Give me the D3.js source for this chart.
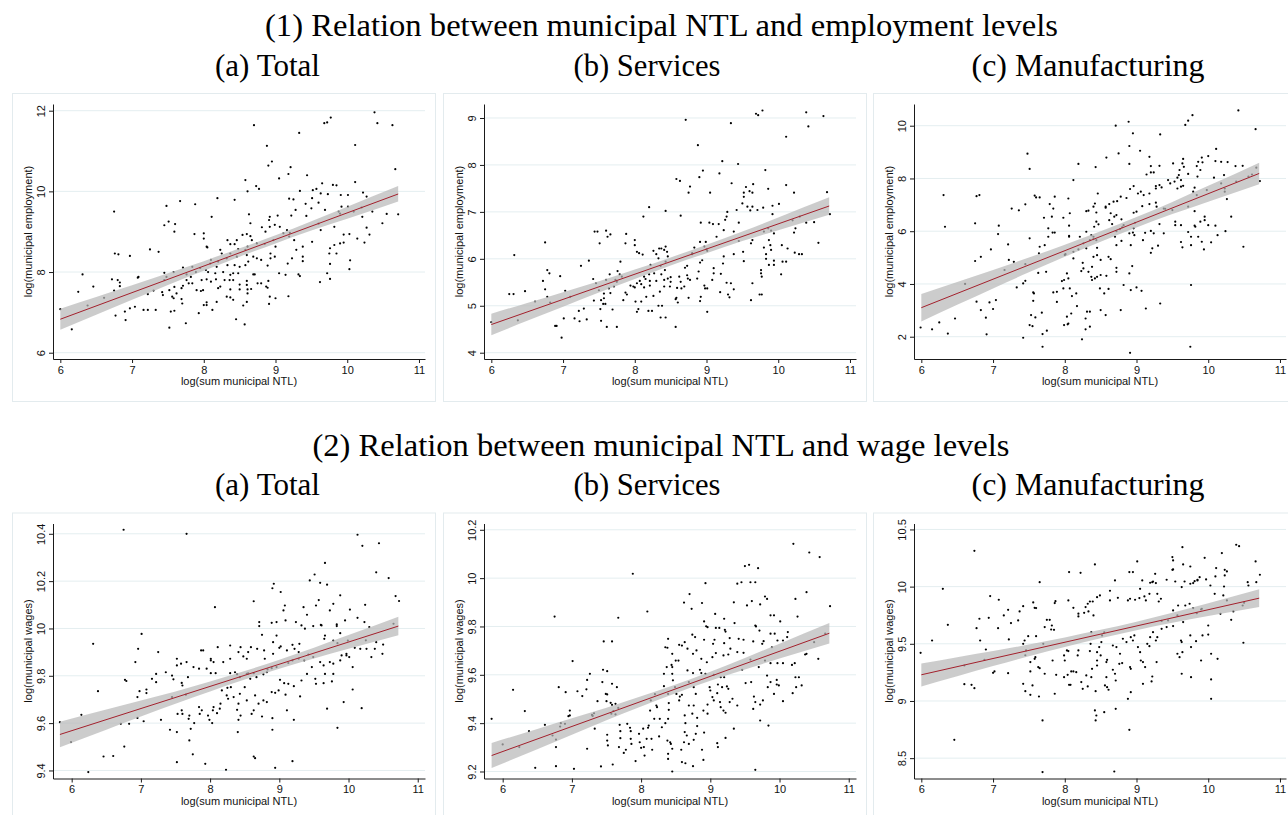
<!DOCTYPE html>
<html>
<head>
<meta charset="utf-8">
<script src="https://cdn.jsdelivr.net/npm/d3@7"></script>
<style>
  body { margin: 0; background: #fff; }
  svg { display: block; }
</style>
</head>
<body>
<div id="chart"></div>
<script>
// scatter points: [log NTL, log outcome]
const empTotal = [[10.38,11.96],[10.42,11.69],[10.63,11.64],[8.70,11.64],[9.68,11.69],[9.72,11.71],[9.77,11.83],[9.33,11.45],[8.88,11.13],[10.11,11.15],[8.90,10.64],[8.95,10.74],[9.21,10.60],[10.67,10.55],[9.44,10.40],[9.18,10.43],[9.05,10.32],[8.58,10.28],[8.73,10.13],[8.77,10.06],[8.61,10.00],[9.65,10.20],[9.80,10.16],[9.85,10.15],[10.11,10.23],[9.34,10.01],[9.52,10.03],[9.57,10.06],[9.63,9.95],[9.91,9.91],[10.01,9.91],[10.22,9.97],[10.27,9.87],[9.73,9.93],[8.19,9.83],[8.43,9.79],[7.67,9.76],[7.48,9.64],[7.88,9.68],[6.75,9.50],[8.11,9.37],[8.63,9.43],[8.92,9.37],[8.91,9.29],[9.03,9.40],[9.19,9.82],[9.25,9.80],[9.28,9.54],[9.42,9.69],[9.51,9.83],[9.60,9.72],[9.50,9.58],[9.69,9.54],[9.43,9.39],[9.22,9.40],[9.88,9.50],[9.92,9.62],[10.01,9.62],[10.09,9.50],[10.21,9.37],[10.55,9.44],[10.71,9.43],[10.49,9.21],[10.27,9.10],[10.31,8.93],[10.24,8.73],[10.03,8.94],[10.04,8.29],[10.03,8.07],[10.14,8.83],[9.82,9.12],[9.95,8.93],[9.90,8.71],[9.82,8.67],[9.76,8.59],[9.75,8.46],[9.76,8.20],[9.76,7.83],[9.62,7.75],[9.72,7.97],[9.85,8.46],[9.95,8.73],[9.51,8.75],[9.63,9.04],[9.38,8.63],[9.38,8.38],[9.38,8.27],[9.32,7.94],[9.34,7.90],[9.18,7.40],[9.14,7.93],[9.17,8.21],[9.23,8.34],[9.29,8.55],[9.26,8.79],[9.19,8.88],[9.16,9.04],[9.11,8.96],[9.06,9.12],[8.99,9.17],[8.92,9.12],[8.86,9.00],[8.97,8.79],[9.00,8.63],[8.93,8.46],[8.99,8.38],[8.93,8.34],[8.89,8.16],[8.90,7.78],[8.87,7.64],[8.89,7.61],[9.00,7.35],[8.92,7.39],[8.91,7.21],[9.05,7.97],[8.80,8.30],[8.74,8.34],[8.69,8.38],[8.60,8.42],[8.62,8.26],[8.58,8.17],[8.71,7.94],[8.75,7.72],[8.80,7.72],[8.69,7.94],[8.60,7.78],[8.60,7.68],[8.61,7.57],[8.66,7.58],[8.61,7.47],[8.60,7.26],[8.55,7.17],[8.57,6.70],[8.45,6.83],[8.50,7.57],[8.41,7.80],[8.48,7.97],[8.50,8.13],[8.43,8.17],[8.46,8.38],[8.48,8.57],[8.43,8.69],[8.46,8.79],[8.37,8.46],[8.32,8.34],[8.33,8.17],[8.27,8.00],[8.37,7.93],[8.41,7.97],[8.29,7.80],[8.23,7.64],[8.32,7.39],[8.37,7.37],[8.41,7.31],[8.18,7.26],[8.12,7.06],[8.04,7.25],[8.04,7.18],[8.00,7.18],[7.93,6.98],[7.75,6.73],[7.52,6.62],[7.54,7.02],[7.59,7.04],[7.69,7.33],[7.70,7.22],[7.58,7.35],[7.56,7.39],[7.62,7.47],[7.52,7.55],[7.59,7.63],[7.69,7.60],[7.76,7.80],[7.90,7.55],[7.96,7.53],[7.97,7.80],[8.04,7.82],[8.10,7.76],[8.06,8.00],[8.16,7.97],[8.03,8.05],[8.18,8.13],[8.20,8.26],[8.10,8.30],[8.09,8.21],[8.23,8.55],[8.25,8.46],[8.05,8.61],[8.04,8.63],[8.00,8.83],[8.00,8.96],[7.87,8.94],[7.84,8.13],[7.89,8.00],[7.82,7.88],[7.79,7.72],[7.84,7.72],[7.99,7.55],[8.20,7.60],[8.17,7.82],[8.36,7.80],[8.37,7.57],[8.50,7.69],[8.33,8.79],[8.37,8.69],[8.54,8.92],[8.60,8.94],[8.65,8.89],[8.65,9.21],[8.81,9.11],[8.67,8.79],[8.74,8.71],[8.61,8.63],[7.76,7.94],[7.71,8.11],[7.45,7.98],[7.48,7.88],[7.51,9.25],[7.45,9.16],[7.60,9.19],[7.59,9.00],[7.37,8.50],[7.25,8.56],[6.97,8.40],[6.76,8.46],[6.81,8.44],[7.08,7.86],[7.09,7.88],[6.72,7.82],[6.80,7.80],[6.83,7.74],[6.83,7.65],[6.75,7.54],[7.22,7.45],[7.30,7.54],[7.42,7.50],[7.43,7.43],[7.16,7.06],[7.22,7.06],[7.33,7.06],[7.04,7.14],[6.97,7.10],[6.90,7.02],[6.91,6.81],[6.77,6.92],[6.46,7.64],[6.31,7.94],[6.25,7.51],[6.61,7.36],[6.38,7.17],[6.00,7.08],[6.16,6.58],[7.71,7.66],[7.58,8.00],[7.45,7.80],[7.95,8.10],[8.58,8.55],[8.85,8.70],[9.20,8.97],[9.60,9.20],[9.90,9.45],[10.20,9.60],[10.35,9.50]];

const empServ = [[9.78,9.16],[9.69,9.09],[9.72,9.06],[10.39,9.12],[10.63,9.04],[10.42,8.82],[8.71,8.96],[9.34,8.89],[10.11,8.60],[8.88,8.42],[9.22,8.08],[9.44,8.02],[9.82,7.89],[8.95,7.88],[8.90,7.74],[9.18,7.82],[8.58,7.70],[8.63,7.66],[8.77,7.54],[9.35,7.61],[9.55,7.53],[9.65,7.59],[10.11,7.57],[9.86,7.49],[9.60,7.44],[9.52,7.41],[9.64,7.41],[9.05,7.41],[8.75,7.41],[10.22,7.41],[10.68,7.42],[9.52,7.32],[9.50,7.18],[9.57,7.11],[9.64,7.11],[9.61,7.03],[9.71,7.04],[9.79,7.09],[9.92,7.13],[10.01,7.17],[9.42,7.04],[9.29,7.00],[9.28,6.90],[9.26,6.83],[9.17,6.74],[9.09,6.74],[9.04,6.77],[8.92,6.77],[9.45,6.77],[9.24,6.61],[9.14,6.47],[9.38,6.58],[8.43,7.02],[8.64,6.92],[8.20,7.10],[8.12,6.90],[10.72,6.95],[10.39,6.77],[10.50,6.78],[9.92,6.95],[9.86,6.65],[9.94,6.54],[10.22,6.56],[10.24,6.65],[9.80,6.58],[9.64,6.40],[9.62,6.33],[9.87,6.40],[9.80,6.24],[9.89,6.29],[10.05,6.29],[10.13,6.22],[10.23,6.13],[10.29,6.10],[10.33,6.10],[10.56,6.34],[9.83,6.10],[9.90,6.19],[9.83,6.00],[9.94,5.96],[9.94,5.87],[9.87,5.87],[10.06,5.94],[10.11,5.94],[10.04,5.67],[9.76,5.76],[9.76,5.69],[9.77,5.62],[9.64,5.48],[9.74,5.24],[9.77,5.24],[9.62,5.12],[9.52,5.95],[9.51,6.15],[9.38,6.10],[9.24,6.05],[9.23,5.90],[9.10,5.80],[9.10,5.69],[9.20,5.68],[9.28,5.49],[9.34,5.48],[9.38,5.35],[9.30,5.24],[9.32,5.18],[9.19,5.29],[9.08,5.55],[8.97,5.43],[9.01,5.37],[8.98,5.37],[8.92,5.19],[8.91,5.10],[9.01,4.87],[8.87,5.58],[8.89,5.73],[8.91,5.92],[8.94,5.97],[9.01,6.17],[8.97,6.26],[8.83,6.24],[8.80,6.10],[8.91,6.36],[8.99,6.36],[8.73,5.85],[8.70,5.81],[8.74,5.58],[8.77,5.55],[8.73,5.65],[8.62,5.62],[8.64,5.51],[8.69,5.41],[8.65,5.37],[8.59,5.38],[8.58,5.17],[8.60,5.07],[8.57,5.14],[8.75,5.17],[8.57,4.55],[8.43,4.75],[8.36,4.75],[8.38,5.00],[8.33,5.00],[8.24,4.89],[8.19,4.89],[8.03,4.87],[8.05,4.93],[8.01,5.09],[8.09,5.09],[8.16,5.19],[8.26,5.21],[8.35,5.30],[8.41,5.41],[8.49,5.41],[8.50,5.51],[8.50,5.61],[8.41,5.55],[8.42,5.76],[8.46,5.58],[8.37,5.67],[8.30,5.53],[8.21,5.53],[8.15,5.57],[8.07,5.53],[8.09,5.46],[8.21,5.43],[8.13,5.39],[8.00,5.39],[8.20,5.67],[8.27,5.69],[8.36,5.85],[8.43,5.94],[8.46,6.05],[8.45,6.15],[8.41,6.19],[8.37,6.22],[8.43,6.26],[8.34,6.22],[8.33,6.01],[8.30,6.10],[8.26,6.17],[8.22,5.87],[8.13,5.62],[8.11,6.09],[8.06,6.12],[8.03,6.15],[8.00,6.40],[8.00,6.29],[8.03,5.48],[7.98,5.41],[7.94,5.43],[7.89,5.24],[7.87,5.28],[7.84,5.12],[7.87,6.33],[7.88,6.53],[7.80,5.94],[7.76,5.74],[7.79,5.67],[7.82,5.62],[7.75,5.51],[7.71,5.41],[7.66,5.27],[7.69,4.92],[7.75,4.55],[7.61,4.55],[7.53,4.68],[7.59,5.04],[7.56,5.04],[7.52,4.93],[7.57,5.16],[7.53,5.12],[7.57,5.26],[7.64,5.37],[7.60,5.55],[7.65,5.67],[7.50,5.33],[7.43,5.11],[7.46,5.48],[7.51,6.33],[7.48,6.58],[7.44,6.58],[7.60,6.60],[7.62,6.47],[7.66,6.52],[7.36,5.96],[7.25,5.85],[7.42,5.57],[7.29,4.94],[7.22,4.89],[7.33,4.71],[7.23,4.67],[7.16,4.73],[7.03,5.32],[6.96,5.63],[7.01,4.73],[6.98,4.32],[6.91,4.57],[6.89,4.57],[6.75,6.35],[6.78,5.76],[6.81,5.69],[6.72,5.53],[6.75,5.35],[6.78,5.19],[6.47,5.31],[6.32,6.08],[6.25,5.25],[6.31,5.25],[6.00,4.65],[6.37,4.69],[6.61,5.09],[6.82,5.07],[7.10,5.19],[7.73,5.55],[9.45,6.38],[9.90,6.60],[10.30,6.90],[10.20,6.82],[8.80,6.12],[9.00,6.20]];

const empManu = [[10.42,10.58],[9.78,10.40],[9.72,10.19],[9.68,10.03],[8.89,10.15],[8.71,10.00],[10.66,9.87],[8.95,9.71],[9.33,9.67],[8.90,9.23],[10.11,9.12],[9.05,9.05],[7.48,8.94],[8.58,8.79],[8.75,8.95],[8.90,8.55],[8.19,8.55],[8.43,8.43],[7.51,8.36],[9.18,8.82],[10.00,8.85],[10.10,8.66],[10.18,8.63],[10.27,8.62],[10.38,8.47],[10.48,8.48],[9.51,8.57],[9.65,8.74],[9.64,8.57],[9.66,8.44],[9.86,8.63],[9.91,8.79],[9.92,8.61],[9.84,8.47],[9.89,8.32],[9.85,8.07],[9.32,8.48],[9.20,8.47],[9.24,8.23],[9.20,8.23],[9.14,8.15],[9.60,8.32],[9.59,8.13],[9.72,8.17],[9.57,8.03],[9.62,7.94],[9.53,7.88],[9.44,7.94],[9.47,7.81],[9.32,7.75],[9.27,7.71],[9.27,7.62],[9.35,7.66],[9.62,7.69],[9.57,7.62],[9.65,7.72],[9.81,7.65],[9.84,7.37],[9.79,7.50],[10.08,8.03],[10.22,8.13],[10.26,7.22],[10.23,7.62],[9.98,7.56],[10.32,6.55],[10.49,5.41],[10.24,6.00],[10.13,5.85],[10.10,6.21],[10.04,5.58],[10.00,6.23],[9.95,6.42],[9.95,6.55],[9.89,6.36],[9.91,5.60],[9.94,5.31],[9.86,5.79],[9.81,6.21],[9.82,6.17],[9.76,5.79],[9.76,5.47],[9.72,5.97],[9.81,6.76],[9.62,6.23],[9.54,6.23],[9.54,6.36],[9.62,5.59],[9.64,5.39],[9.72,6.93],[9.76,3.96],[9.75,1.62],[9.33,3.26],[9.13,3.07],[9.20,5.18],[9.22,5.35],[9.30,5.45],[9.24,5.92],[9.20,6.01],[9.32,6.27],[9.38,5.92],[9.28,6.93],[9.27,7.08],[9.38,6.86],[9.18,7.03],[9.08,6.95],[9.18,7.43],[9.10,7.37],[9.06,7.50],[9.02,7.43],[8.96,7.71],[8.91,7.60],[8.86,7.26],[9.00,6.74],[8.96,6.70],[8.98,6.32],[8.96,6.11],[8.95,5.95],[8.97,5.85],[8.90,5.92],[8.92,5.47],[9.09,5.66],[9.12,5.94],[8.79,6.45],[8.82,6.23],[8.77,6.08],[8.72,6.00],[8.70,5.79],[8.72,5.47],[8.79,5.63],[8.66,6.27],[8.72,6.61],[8.69,6.55],[8.62,6.42],[8.64,6.68],[8.57,6.93],[8.62,7.03],[8.57,6.89],[8.68,7.12],[8.78,7.31],[8.73,7.14],[8.46,7.43],[8.42,7.05],[8.40,6.93],[8.33,6.78],[8.30,6.76],[8.44,6.71],[8.44,6.36],[8.47,6.26],[8.41,6.17],[8.37,5.85],[8.40,5.79],[8.35,5.66],[8.44,5.66],[8.45,5.37],[8.45,5.09],[8.40,5.03],[8.50,4.91],[8.50,4.34],[8.58,4.31],[8.61,3.81],[8.55,3.64],[8.57,2.82],[8.50,3.01],[8.78,3.01],[8.82,3.96],[8.90,4.40],[8.94,4.68],[8.92,3.77],[8.91,1.39],[9.00,3.87],[9.07,3.74],[8.72,4.46],[8.72,4.61],[8.64,4.94],[8.61,5.03],[8.49,3.83],[8.45,4.27],[8.42,4.21],[8.38,4.15],[8.37,4.27],[8.38,4.65],[8.33,4.46],[8.26,4.59],[8.23,4.49],[8.25,4.80],[8.30,5.35],[8.26,5.54],[8.19,5.31],[8.21,5.79],[8.30,5.98],[8.35,2.95],[8.31,2.95],[8.29,2.69],[8.29,2.28],[8.35,2.38],[8.24,1.90],[8.16,3.64],[8.17,3.16],[8.09,2.88],[8.04,2.47],[8.05,2.50],[7.99,2.44],[8.03,2.76],[8.10,3.54],[8.07,3.83],[7.98,3.83],[7.99,4.15],[7.96,4.11],[8.05,4.21],[8.03,4.40],[8.12,4.97],[8.12,5.22],[8.01,5.13],[8.06,5.82],[8.06,5.79],[8.06,6.21],[7.98,6.51],[8.05,7.24],[8.07,6.68],[8.12,7.94],[7.82,6.55],[7.86,5.95],[7.83,5.95],[7.77,6.11],[7.77,5.79],[7.72,5.47],[7.65,5.41],[7.71,6.51],[7.79,7.03],[7.84,6.86],[7.86,7.31],[7.65,7.28],[7.58,7.35],[7.60,7.28],[7.64,5.16],[7.63,4.42],[7.74,4.46],[7.84,3.68],[7.89,3.70],[7.89,3.32],[7.68,2.91],[7.56,3.68],[7.57,3.64],[7.56,3.36],[7.53,2.82],[7.59,2.73],[7.51,2.44],[7.55,2.40],[7.69,2.10],[7.75,2.23],[7.69,1.62],[7.42,1.96],[7.45,4.12],[7.42,4.02],[7.51,5.73],[7.45,7.02],[7.36,6.79],[7.33,3.87],[7.29,4.84],[7.22,4.91],[7.21,5.50],[7.26,6.86],[7.08,6.21],[7.07,5.89],[6.97,5.31],[7.04,3.39],[7.00,3.05],[6.95,3.30],[6.91,2.09],[6.90,2.72],[6.83,3.01],[6.77,3.33],[6.83,5.03],[6.75,4.87],[6.75,6.30],[6.77,7.33],[6.81,7.37],[6.31,7.37],[6.33,6.17],[6.47,2.69],[6.37,2.12],[6.25,2.54],[6.15,2.28],[5.99,2.35],[6.61,4.00],[7.16,4.53],[10.67,8.41],[10.61,8.15],[10.56,8.07],[10.72,7.90],[10.39,7.88],[10.23,7.50],[10.18,7.81],[8.40,5.70],[8.80,6.15],[9.40,6.85],[9.50,6.80],[7.45,4.75],[8.00,5.10]];

const wageTotal = [[6.75,10.417],[7.66,10.40],[10.13,10.396],[10.20,10.349],[10.44,10.36],[10.40,10.237],[10.58,10.213],[9.66,10.277],[9.51,10.228],[9.44,10.203],[9.59,10.193],[9.69,10.185],[8.92,10.189],[8.90,10.17],[9.02,10.154],[8.63,10.115],[10.68,10.137],[10.73,10.116],[9.88,10.14],[9.57,10.12],[9.53,10.097],[9.78,10.104],[9.35,10.09],[9.08,10.097],[9.06,10.076],[8.07,10.09],[9.40,10.058],[9.73,10.076],[10.02,10.08],[10.24,10.10],[10.13,10.045],[10.23,10.027],[10.30,10.006],[9.09,10.034],[9.24,10.027],[9.32,10.013],[9.37,9.999],[9.49,10.01],[9.61,10.013],[9.66,9.970],[9.60,10.015],[9.83,10.017],[9.95,10.034],[9.83,10.01],[8.96,10.027],[8.89,10.024],[8.71,10.027],[8.71,10.01],[8.75,9.973],[8.96,9.97],[9.00,9.918],[9.02,9.924],[9.19,9.931],[9.22,9.914],[9.29,9.935],[9.28,9.90],[9.11,9.907],[8.91,9.942],[8.91,9.893],[8.78,9.907],[8.79,9.872],[8.68,9.914],[8.55,9.90],[8.53,9.872],[8.59,9.921],[8.44,9.921],[8.41,9.90],[8.48,9.882],[8.29,9.928],[8.29,9.872],[8.19,9.858],[8.11,9.921],[8.01,9.872],[8.01,9.865],[8.05,9.858],[7.90,9.907],[7.87,9.907],[7.66,9.858],[7.52,9.872],[7.25,9.90],[6.96,9.914],[7.01,9.977],[6.92,9.858],[7.52,9.844],[7.58,9.851],[7.84,9.83],[7.76,9.837],[7.95,9.83],[8.01,9.811],[8.08,9.811],[8.29,9.811],[8.36,9.815],[8.39,9.806],[8.43,9.794],[8.53,9.808],[8.63,9.811],[8.58,9.787],[8.67,9.794],[8.77,9.806],[8.82,9.815],[8.83,9.827],[8.89,9.832],[8.96,9.837],[9.13,9.854],[9.19,9.865],[9.28,9.872],[9.36,9.865],[9.49,9.879],[9.47,9.837],[9.59,9.858],[9.64,9.844],[9.73,9.858],[9.78,9.851],[9.88,9.865],[9.90,9.886],[9.97,9.886],[10.01,9.879],[10.06,9.837],[9.97,9.893],[10.09,9.918],[10.17,9.914],[10.26,9.914],[10.33,9.879],[10.38,9.914],[10.40,9.942],[10.50,9.932],[10.49,9.893],[9.84,9.938],[9.78,9.949],[9.65,9.956],[9.99,9.949],[9.88,9.98],[10.06,9.742],[10.19,9.663],[9.93,9.689],[9.84,9.58],[9.69,9.661],[9.52,9.787],[9.53,9.766],[9.64,9.769],[9.76,9.776],[9.78,9.808],[9.66,9.808],[9.40,9.808],[9.32,9.78],[9.30,9.713],[9.21,9.756],[9.21,9.614],[9.19,9.439],[9.11,9.654],[9.09,9.72],[9.13,9.766],[8.99,9.738],[8.94,9.728],[8.89,9.731],[9.01,9.783],[9.07,9.769],[8.90,9.621],[8.90,9.572],[8.94,9.411],[8.82,9.689],[8.77,9.696],[8.75,9.628],[8.65,9.717],[8.70,9.682],[8.63,9.654],[8.60,9.639],[8.63,9.459],[8.65,9.452],[8.53,9.696],[8.50,9.752],[8.43,9.724],[8.41,9.682],[8.39,9.656],[8.44,9.632],[8.41,9.614],[8.40,9.562],[8.34,9.71],[8.30,9.752],[8.25,9.749],[8.24,9.717],[8.26,9.703],[8.17,9.738],[8.15,9.682],[8.14,9.661],[8.05,9.668],[8.04,9.654],[8.10,9.642],[8.03,9.60],[7.99,9.614],[7.97,9.632],[7.88,9.654],[7.84,9.668],[7.85,9.639],[7.77,9.60],[7.70,9.632],[7.69,9.618],[7.72,9.576],[7.70,9.527],[7.75,9.468],[7.52,9.435],[7.93,9.428],[8.23,9.403],[7.59,9.654],[7.60,9.639],[7.53,9.639],[7.42,9.572],[7.52,9.562],[7.29,9.614],[7.60,9.759],[7.59,9.77],[7.47,9.785],[7.45,9.801],[7.36,9.815],[7.22,9.808],[7.16,9.787],[7.22,9.773],[7.08,9.742],[7.08,9.727],[6.95,9.71],[6.98,9.735],[6.77,9.783],[6.79,9.778],[7.04,9.608],[6.95,9.622],[6.83,9.597],[6.76,9.501],[6.71,9.597],[6.60,9.461],[6.46,9.459],[6.38,9.735],[6.31,9.935],[6.14,9.635],[5.99,9.52],[5.83,9.604],[6.24,9.393],[7.68,9.794],[9.42,9.89],[10.25,9.95],[10.65,10.02],[8.55,9.81],[7.45,9.71],[7.65,9.72]];

const wageServ = [[10.20,10.142],[10.43,10.106],[10.58,10.087],[7.88,10.018],[9.50,10.05],[9.56,10.055],[9.69,10.041],[9.45,9.983],[9.39,9.977],[9.58,9.983],[9.65,9.983],[8.93,9.979],[10.39,9.942],[10.23,9.914],[10.73,9.884],[8.70,9.934],[8.62,9.899],[8.88,9.897],[8.73,9.873],[9.34,9.90],[9.60,9.905],[9.53,9.887],[9.72,9.891],[9.79,9.924],[9.82,9.914],[9.87,9.846],[9.92,9.846],[10.01,9.821],[10.26,9.841],[9.65,9.804],[9.66,9.80],[9.71,9.783],[9.07,9.852],[9.35,9.814],[9.20,9.832],[8.91,9.821],[8.94,9.801],[8.96,9.797],[9.08,9.794],[9.13,9.794],[9.21,9.786],[9.22,9.779],[8.09,9.862],[7.67,9.836],[6.75,9.841],[7.01,9.657],[9.87,9.77],[9.93,9.77],[9.97,9.742],[9.89,9.714],[9.77,9.739],[9.75,9.728],[9.62,9.738],[9.48,9.745],[9.41,9.749],[9.28,9.752],[9.20,9.731],[9.06,9.745],[9.04,9.728],[8.91,9.745],[8.74,9.766],[8.78,9.756],[8.63,9.735],[8.55,9.724],[8.39,9.749],[8.35,9.714],[8.59,9.721],[8.67,9.708],[8.75,9.687],[8.80,9.701],[8.87,9.666],[8.95,9.652],[9.03,9.673],[9.08,9.69],[9.19,9.68],[9.26,9.684],[9.29,9.708],[9.39,9.694],[9.48,9.691],[9.58,9.663],[9.79,9.659],[9.87,9.648],[9.97,9.648],[10.05,9.648],[10.11,9.756],[10.12,9.777],[10.05,9.742],[10.18,9.641],[10.22,9.648],[10.23,9.59],[10.28,9.59],[10.32,9.556],[10.19,9.524],[10.24,9.549],[10.37,9.684],[10.39,9.687],[10.56,9.666],[9.82,9.597],[9.83,9.549],[9.96,9.579],[9.96,9.56],[9.99,9.556],[9.87,9.57],[10.05,9.491],[9.92,9.521],[9.84,9.39],[9.76,9.494],[9.72,9.477],[9.63,9.51],[9.65,9.487],[9.62,9.459],[9.72,9.411],[9.65,9.207],[9.51,9.566],[9.59,9.57],[9.70,9.632],[9.46,9.621],[9.39,9.473],[9.34,9.377],[9.32,9.501],[9.28,9.487],[9.26,9.542],[9.20,9.59],[9.24,9.552],[9.17,9.549],[9.15,9.59],[9.14,9.487],[9.19,9.452],[9.22,9.443],[9.15,9.466],[9.10,9.524],[9.11,9.56],[9.00,9.535],[8.99,9.549],[9.03,9.508],[9.05,9.494],[8.96,9.477],[8.96,9.439],[8.90,9.452],[8.93,9.604],[8.87,9.607],[8.85,9.621],[8.67,9.618],[8.75,9.607],[8.69,9.57],[8.76,9.549],[8.79,9.521],[8.76,9.473],[8.69,9.473],[8.74,9.439],[8.81,9.422],[8.81,9.388],[8.79,9.356],[8.76,9.331],[8.69,9.314],[8.75,9.222],[8.88,9.29],[8.90,9.248],[8.91,9.361],[9.10,9.317],[9.11,9.301],[9.22,9.339],[8.63,9.432],[8.64,9.40],[8.63,9.363],[8.66,9.349],[8.62,9.321],[8.58,9.29],[8.59,9.239],[8.64,9.234],[8.55,9.494],[8.56,9.51],[8.59,9.517],[8.51,9.521],[8.49,9.549],[8.46,9.577],[8.45,9.604],[8.45,9.632],[8.50,9.659],[8.54,9.659],[8.45,9.687],[8.38,9.712],[8.37,9.632],[8.44,9.641],[8.33,9.604],[8.33,9.553],[8.39,9.521],[8.40,9.483],[8.40,9.455],[8.39,9.418],[8.35,9.40],[8.42,9.321],[8.38,9.328],[8.43,9.314],[8.45,9.294],[8.39,9.273],[8.39,9.252],[8.45,9.20],[8.26,9.345],[8.30,9.383],[8.27,9.418],[8.19,9.418],[8.23,9.466],[8.22,9.473],[8.14,9.494],[8.13,9.452],[8.11,9.39],[8.10,9.381],[8.08,9.335],[8.04,9.301],[8.16,9.29],[8.05,9.266],[8.15,9.335],[7.98,9.321],[7.97,9.356],[8.03,9.377],[8.00,9.298],[7.92,9.243],[7.85,9.335],[7.86,9.314],[7.84,9.381],[7.85,9.367],[7.80,9.397],[7.70,9.367],[7.68,9.301],[7.75,9.277],[7.78,9.29],[7.59,9.229],[7.42,9.221],[7.52,9.308],[7.51,9.328],[7.51,9.352],[7.70,9.338],[7.69,9.393],[7.63,9.436],[7.67,9.463],[7.63,9.48],[7.58,9.476],[7.56,9.484],[7.57,9.439],[7.65,9.549],[7.58,9.563],[7.51,9.615],[7.45,9.621],[7.44,9.57],[7.49,9.521],[7.51,9.519],[7.50,9.491],[7.46,9.738],[7.58,9.738],[7.37,9.491],[7.33,9.377],[7.32,9.441],[7.29,9.434],[7.26,9.604],[7.22,9.579],[7.21,9.54],[7.22,9.294],[7.15,9.512],[7.08,9.532],[7.03,9.211],[6.97,9.432],[6.97,9.452],[6.95,9.429],[6.91,9.528],[6.81,9.549],[6.77,9.332],[6.77,9.301],[6.77,9.222],[6.84,9.40],[6.83,9.386],[6.90,9.397],[6.72,9.349],[6.61,9.393],[6.47,9.215],[6.38,9.367],[6.32,9.45],[6.15,9.538],[6.24,9.301],[6.00,9.312],[5.84,9.418],[10.66,9.77],[10.50,9.735],[8.20,9.52],[9.05,9.60],[7.30,9.43],[7.60,9.45]];

const wageManu = [[10.39,10.366],[10.43,10.354],[9.64,10.345],[6.74,10.313],[10.66,10.22],[10.19,10.293],[9.50,10.258],[9.51,10.229],[9.95,10.252],[9.01,10.22],[8.42,10.194],[9.65,10.194],[9.75,10.176],[9.50,10.147],[9.51,10.15],[10.11,10.162],[10.26,10.133],[10.23,10.147],[8.06,10.127],[8.22,10.121],[8.90,10.127],[8.95,10.127],[9.26,10.112],[10.72,10.104],[10.10,10.089],[10.23,10.098],[9.88,10.083],[9.85,10.06],[9.97,10.063],[9.42,10.06],[9.54,10.045],[9.67,10.045],[9.85,10.054],[9.23,10.045],[9.22,10.039],[9.08,10.054],[9.19,10.034],[9.27,10.031],[8.70,10.054],[10.55,10.039],[10.56,10.01],[10.67,10.039],[10.22,10.001],[10.03,10.01],[9.75,10.025],[9.63,9.996],[9.81,10.048],[7.65,10.039],[6.30,9.981],[9.05,9.981],[9.18,9.937],[9.11,9.914],[9.29,9.937],[9.34,9.894],[9.31,9.87],[9.13,9.879],[9.04,9.90],[8.98,9.885],[8.91,9.894],[8.88,9.879],[8.63,9.964],[8.63,9.879],[8.74,9.902],[8.49,9.923],[8.45,9.908],[8.35,9.87],[8.39,9.87],[8.32,9.85],[8.29,9.821],[8.33,9.783],[8.40,9.748],[8.27,9.771],[8.19,9.763],[8.19,9.739],[8.12,9.815],[8.05,9.879],[7.86,9.856],[7.87,9.873],[7.79,9.71],[7.75,9.71],[7.81,9.625],[7.82,9.66],[7.85,9.622],[7.72,9.646],[7.60,9.812],[7.56,9.862],[7.58,9.815],[7.42,9.829],[7.37,9.783],[7.21,9.797],[7.15,9.748],[7.08,9.885],[6.96,9.917],[6.94,9.727],[7.07,9.637],[7.35,9.704],[7.25,9.681],[6.81,9.719],[6.77,9.637],[6.37,9.666],[6.15,9.529],[5.99,9.421],[6.82,9.529],[6.90,9.45],[7.22,9.538],[7.21,9.243],[7.02,9.258],[7.00,9.246],[6.60,9.147],[6.70,9.141],[6.74,9.112],[6.46,8.66],[7.42,9.50],[7.44,9.529],[7.49,9.567],[7.46,9.442],[7.52,9.34],[7.52,9.258],[7.42,9.15],[7.45,9.086],[7.52,9.054],[7.55,9.136],[7.58,9.369],[7.59,9.383],[7.60,9.567],[7.63,9.296],[7.65,9.287],[7.72,9.238],[7.70,9.50],[7.64,9.039],[7.69,8.83],[7.69,8.378],[7.83,9.354],[7.86,9.063],[7.88,9.229],[7.99,9.398],[8.00,9.354],[7.99,9.208],[8.04,9.229],[8.03,9.442],[8.05,9.436],[8.06,9.141],[8.08,9.141],[8.09,9.258],[8.12,9.258],[8.16,9.252],[8.18,9.398],[8.19,9.442],[8.23,9.165],[8.25,9.106],[8.30,9.223],[8.32,9.127],[8.35,9.436],[8.37,9.602],[8.36,9.50],[8.38,9.281],[8.37,9.208],[8.43,9.086],[8.42,8.917],[8.44,8.873],[8.43,8.83],[8.45,9.31],[8.45,9.354],[8.45,9.427],[8.48,9.471],[8.51,9.515],[8.50,9.398],[8.52,9.573],[8.56,9.136],[8.59,9.121],[8.61,9.098],[8.55,8.902],[8.58,9.208],[8.58,9.34],[8.59,9.36],[8.67,9.273],[8.70,9.238],[8.71,9.179],[8.71,8.931],[8.69,8.383],[8.67,9.485],[8.72,9.471],[8.77,9.413],[8.76,9.325],[8.80,9.331],[8.81,9.544],[8.86,9.515],[8.92,9.558],[8.97,9.573],[8.95,9.529],[8.91,9.296],[8.92,9.281],[8.88,9.019],[8.92,9.077],[8.90,8.748],[9.02,9.471],[9.05,9.427],[9.06,9.354],[9.09,9.34],[9.12,9.296],[9.09,9.15],[9.15,9.50],[9.18,9.479],[9.19,9.558],[9.23,9.602],[9.22,9.214],[9.21,9.171],[9.28,9.34],[9.27,9.529],[9.29,9.558],[9.35,9.631],[9.42,9.646],[9.44,9.704],[9.51,9.655],[9.57,9.413],[9.60,9.383],[9.62,9.529],[9.63,9.515],[9.64,9.427],[9.63,9.238],[9.65,9.69],[9.75,9.573],[9.76,9.471],[9.76,9.208],[9.83,9.523],[9.90,9.354],[9.92,9.573],[10.00,9.66],[10.00,9.581],[10.04,9.413],[10.04,9.188],[10.04,9.019],[10.13,9.369],[9.91,9.806],[9.84,9.768],[9.79,9.812],[9.74,9.85],[9.68,9.835],[9.58,9.835],[9.57,9.748],[9.51,9.792],[10.17,9.762],[10.21,9.923],[10.26,9.879],[10.32,9.71],[10.35,9.783],[10.49,9.509],[10.48,9.835],[10.09,9.937],[9.79,10.031],[6.88,9.36],[6.60,9.31],[7.45,9.40],[8.55,9.60],[9.35,9.70],[9.90,9.80],[10.50,9.86]];

// fitted line and 95% CI band
const empTotalFitX = [6.0, 10.71], empTotalFitY = [6.83, 9.935];
const empTotalCiX = [6.0, 6.5, 7.0, 7.5, 8.0, 8.5, 9.0, 9.5, 10.0, 10.71];
const empTotalCiLo = [6.57, 6.94, 7.31, 7.68, 8.03, 8.38, 8.71, 9.03, 9.32, 9.75];
const empTotalCiHi = [7.09, 7.38, 7.67, 7.97, 8.27, 8.59, 8.91, 9.26, 9.62, 10.13];

const empServFitX = [6.0, 10.71], empServFitY = [4.60, 7.125];
const empServCiX = [6.0, 6.5, 7.0, 7.5, 8.0, 8.5, 9.0, 9.5, 10.0, 10.71];
const empServCiLo = [4.37, 4.68, 4.98, 5.28, 5.57, 5.86, 6.12, 6.38, 6.61, 6.94];
const empServCiHi = [4.83, 5.06, 5.29, 5.52, 5.77, 6.03, 6.30, 6.58, 6.88, 7.31];

const empManuFitX = [6.0, 10.71], empManuFitY = [3.10, 8.19];
const empManuCiX = [6.0, 6.5, 7.0, 7.5, 8.0, 8.5, 9.0, 9.5, 10.0, 10.71];
const empManuCiLo = [2.58, 3.21, 3.83, 4.44, 5.03, 5.60, 6.14, 6.65, 7.12, 7.78];
const empManuCiHi = [3.62, 4.07, 4.53, 5.00, 5.49, 6.00, 6.54, 7.11, 7.72, 8.60];

const wageTotalFitX = [5.83, 10.72], wageTotalFitY = [9.552, 10.010];
const wageTotalCiX = [5.83, 6.5, 7.0, 7.5, 8.0, 8.5, 9.0, 9.5, 10.0, 10.72];
const wageTotalCiLo = [9.498, 9.572, 9.628, 9.682, 9.734, 9.784, 9.830, 9.873, 9.914, 9.971];
const wageTotalCiHi = [9.606, 9.658, 9.696, 9.734, 9.776, 9.820, 9.868, 9.919, 9.972, 10.049];

const wageServFitX = [5.84, 10.72], wageServFitY = [9.266, 9.772];
const wageServCiX = [5.84, 6.5, 7.0, 7.5, 8.0, 8.5, 9.0, 9.5, 10.0, 10.72];
const wageServCiLo = [9.214, 9.292, 9.352, 9.412, 9.469, 9.524, 9.575, 9.622, 9.667, 9.730];
const wageServCiHi = [9.318, 9.376, 9.420, 9.464, 9.511, 9.560, 9.613, 9.670, 9.729, 9.814];

const wageManuFitX = [6.0, 10.71], wageManuFitY = [9.229, 9.899];
const wageManuCiX = [6.0, 6.5, 7.0, 7.5, 8.0, 8.5, 9.0, 9.5, 10.0, 10.71];
const wageManuCiLo = [9.127, 9.217, 9.305, 9.390, 9.472, 9.548, 9.619, 9.683, 9.742, 9.822];
const wageManuCiHi = [9.327, 9.383, 9.437, 9.494, 9.556, 9.622, 9.693, 9.771, 9.854, 9.976];

// axis ticks
const xTicks = [6, 7, 8, 9, 10, 11];
const empTotalTicks = [6, 8, 10, 12];
const empServTicks = [4, 5, 6, 7, 8, 9];
const empManuTicks = [2, 4, 6, 8, 10];
const wageTotalTicks = [9.4, 9.6, 9.8, 10, 10.2, 10.4];
const wageServTicks = [9.2, 9.4, 9.6, 9.8, 10, 10.2];
const wageManuTicks = [8.5, 9, 9.5, 10, 10.5];

const xTitle = "log(sum municipal NTL)";
const empLabel = "log(municipal employment)";
const wageLabel = "log(municipal wages)";

const titles = [
  { text: "(1) Relation between municipal NTL and employment levels", x: 661.5, y: 36, w: 793 },
  { text: "(2) Relation between municipal NTL and wage levels", x: 661, y: 456, w: 697 }
];
const subtitles = ["(a) Total", "(b) Services", "(c) Manufacturing"];
const subX = [267.5, 647, 1088];
const subW = [105, 147, 233];
const subY = [76, 495];

const width = 1288, height = 815;
const frameW = 423, frameH = 308;
const plot = { left: 41, right: 413, top: 11, bottom: 266 };
const sans = "'Liberation Sans', Arial, Helvetica, sans-serif";
const serif = "'Liberation Serif', 'Times New Roman', serif";

const panels = [
  { x0: 12, y0: 93, pts: empTotal, fx: empTotalFitX, fy: empTotalFitY, cx: empTotalCiX, lo: empTotalCiLo, hi: empTotalCiHi, xDom: [5.898, 11.084], yDom: [5.844, 12.166], yTicks: empTotalTicks, yLabel: empLabel },
  { x0: 443, y0: 93, pts: empServ, fx: empServFitX, fy: empServFitY, cx: empServCiX, lo: empServCiLo, hi: empServCiHi, xDom: [5.898, 11.084], yDom: [3.866, 9.298], yTicks: empServTicks, yLabel: empLabel },
  { x0: 873, y0: 93, pts: empManu, fx: empManuFitX, fy: empManuFitY, cx: empManuCiX, lo: empManuCiLo, hi: empManuCiHi, xDom: [5.898, 11.084], yDom: [1.155, 10.823], yTicks: empManuTicks, yLabel: empLabel },
  { x0: 12, y0: 512.5, pts: wageTotal, fx: wageTotalFitX, fy: wageTotalFitY, cx: wageTotalCiX, lo: wageTotalCiLo, hi: wageTotalCiHi, xDom: [5.73, 11.105], yDom: [9.366, 10.4435], yTicks: wageTotalTicks, yLabel: wageLabel },
  { x0: 443, y0: 512.5, pts: wageServ, fx: wageServFitX, fy: wageServFitY, cx: wageServCiX, lo: wageServCiLo, hi: wageServCiHi, xDom: [5.73, 11.105], yDom: [9.171, 10.226], yTicks: wageServTicks, yLabel: wageLabel },
  { x0: 873, y0: 512.5, pts: wageManu, fx: wageManuFitX, fy: wageManuFitY, cx: wageManuCiX, lo: wageManuCiLo, hi: wageManuCiHi, xDom: [5.898, 11.084], yDom: [8.322, 10.552], yTicks: wageManuTicks, yLabel: wageLabel }
];

const svg = d3.select("#chart").append("svg")
  .attr("width", width)
  .attr("height", height);

svg.append("rect").attr("width", width).attr("height", height).attr("fill", "#fff");

// headings
titles.forEach(t => {
  svg.append("text")
    .attr("x", t.x).attr("y", t.y)
    .attr("text-anchor", "middle")
    .attr("font-family", serif)
    .attr("font-size", 31)
    .attr("textLength", t.w)
    .attr("lengthAdjust", "spacingAndGlyphs")
    .attr("fill", "#000")
    .text(t.text);
});
subY.forEach(sy => {
  subtitles.forEach((s, i) => {
    svg.append("text")
      .attr("x", subX[i]).attr("y", sy)
      .attr("text-anchor", "middle")
      .attr("font-family", serif)
      .attr("font-size", 31)
      .attr("textLength", subW[i])
      .attr("lengthAdjust", "spacingAndGlyphs")
      .attr("fill", "#000")
      .text(s);
  });
});

panels.forEach(p => {
  const g = svg.append("g").attr("transform", `translate(${p.x0},${p.y0})`);

  g.append("rect")
    .attr("x", 0.5).attr("y", 0.5)
    .attr("width", frameW).attr("height", frameH)
    .attr("fill", "#fff")
    .attr("stroke", "#e3ebee");

  const x = d3.scaleLinear().domain(p.xDom).range([plot.left, plot.right]);
  const y = d3.scaleLinear().domain(p.yDom).range([plot.bottom, plot.top]);

  // horizontal grid at the y ticks
  g.append("g").selectAll("line")
    .data(p.yTicks)
    .join("line")
    .attr("x1", plot.left).attr("x2", plot.right)
    .attr("y1", d => y(d)).attr("y2", d => y(d))
    .attr("stroke", "#e4eef0")
    .attr("stroke-width", 1);

  // scatter
  g.append("g").selectAll("circle")
    .data(p.pts)
    .join("circle")
    .attr("cx", d => x(d[0]))
    .attr("cy", d => y(d[1]))
    .attr("r", 1.1)
    .attr("fill", "#000");

  // CI band sits on top of the points, so the points under it look grey
  const area = d3.area()
    .x(d => x(d))
    .y0((d, i) => y(p.lo[i]))
    .y1((d, i) => y(p.hi[i]))
    .curve(d3.curveMonotoneX);
  g.append("path")
    .datum(p.cx)
    .attr("d", area)
    .attr("fill", "#b9b9b9")
    .attr("fill-opacity", 0.72);

  const line = d3.line().x(d => x(d[0])).y(d => y(d[1]));
  g.append("path")
    .datum(p.fx.map((v, i) => [v, p.fy[i]]))
    .attr("d", line)
    .attr("stroke", "#a3202c")
    .attr("stroke-width", 1)
    .attr("fill", "none");

  // axes
  const xAxis = g.append("g")
    .attr("transform", `translate(0,${plot.bottom})`)
    .call(d3.axisBottom(x).tickValues(xTicks).tickSize(4).tickSizeOuter(0).tickPadding(3).tickFormat(d3.format("d")));
  const yAxis = g.append("g")
    .attr("transform", `translate(${plot.left},0)`)
    .call(d3.axisLeft(y).tickValues(p.yTicks).tickSize(4).tickSizeOuter(0).tickFormat(d => String(+d.toFixed(2))));

  [xAxis, yAxis].forEach(a => {
    a.select(".domain").attr("stroke", "#1a1a1a");
    a.selectAll(".tick line").attr("stroke", "#1a1a1a");
    a.selectAll("text")
      .attr("font-family", sans)
      .attr("font-size", 11)
      .attr("fill", "#111");
  });

  yAxis.selectAll(".tick text")
    .attr("x", 0).attr("y", 0).attr("dy", 0)
    .attr("text-anchor", "middle")
    .attr("transform", "translate(-8,0) rotate(-90)");

  g.append("text")
    .attr("x", (plot.left + plot.right) / 2)
    .attr("y", plot.bottom + 26)
    .attr("text-anchor", "middle")
    .attr("font-family", sans)
    .attr("font-size", 11)
    .attr("fill", "#111")
    .text(xTitle);

  g.append("text")
    .attr("transform", `translate(20,${(plot.top + plot.bottom) / 2}) rotate(-90)`)
    .attr("text-anchor", "middle")
    .attr("font-family", sans)
    .attr("font-size", 11)
    .attr("fill", "#111")
    .text(p.yLabel);
});
</script>
</body>
</html>
